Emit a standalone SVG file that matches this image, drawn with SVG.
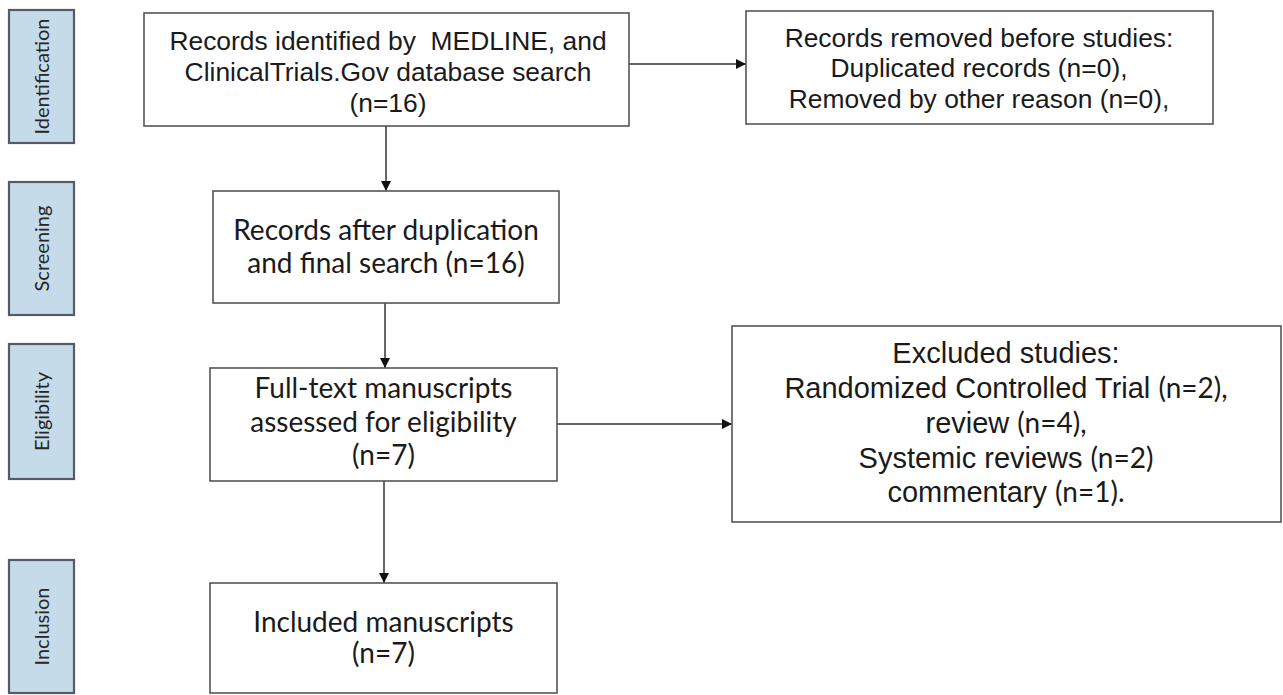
<svg xmlns="http://www.w3.org/2000/svg" width="1283" height="695" viewBox="0 0 1283 695">
<style>
.box{fill:#ffffff;stroke:#555555;stroke-width:1.6}
.stage{fill:#c6dbe9;stroke:#545a68;stroke-width:2.2}
.arial{font-family:"Liberation Sans",Arial,sans-serif;fill:#1a1a1a;text-anchor:middle}
.cal{font-family:Lato,"Open Sans",sans-serif;fill:#1a1a1a;text-anchor:middle}
.stagetxt{font-family:Lato,"Open Sans",sans-serif;fill:#262626;font-size:20px;text-anchor:middle}
.conn{stroke:#333333;stroke-width:1.5;fill:none}
</style>
<defs>
<marker id="arr" viewBox="0 0 10 10" refX="10" refY="5" markerWidth="10" markerHeight="10" markerUnits="userSpaceOnUse" orient="auto">
<path d="M0,0 L10,5 L0,10 z" fill="#111111"/>
</marker>
</defs>
<g id="stage-identification">
<rect class="stage" x="9" y="10" width="65" height="133"/>
<text class="stagetxt" transform="translate(48.5,76.5) rotate(-90)">Identification</text>
</g>
<g id="stage-screening">
<rect class="stage" x="9" y="182" width="65" height="133"/>
<text class="stagetxt" transform="translate(48.5,248.5) rotate(-90)">Screening</text>
</g>
<g id="stage-eligibility">
<rect class="stage" x="9" y="344" width="65" height="135"/>
<text class="stagetxt" transform="translate(48.5,411.5) rotate(-90)">Eligibility</text>
</g>
<g id="stage-inclusion">
<rect class="stage" x="9" y="560" width="65" height="133"/>
<text class="stagetxt" transform="translate(48.5,626.5) rotate(-90)">Inclusion</text>
</g>
<g id="connectors">
<line class="conn" x1="629" y1="64" x2="746" y2="64" marker-end="url(#arr)"/>
<line class="conn" x1="386" y1="126" x2="386" y2="191" marker-end="url(#arr)"/>
<line class="conn" x1="385" y1="303" x2="385" y2="368" marker-end="url(#arr)"/>
<line class="conn" x1="557" y1="424" x2="732" y2="424" marker-end="url(#arr)"/>
<line class="conn" x1="384" y1="481" x2="384" y2="583" marker-end="url(#arr)"/>
</g>
<g id="node-records-identified">
<rect class="box" x="144" y="13" width="485" height="113"/>
<text class="arial" font-size="26.4" x="388" y="50" xml:space="preserve">Records identified by  MEDLINE, and</text>
<text class="arial" font-size="26.4" x="388" y="81">ClinicalTrials.Gov database search</text>
<text class="arial" font-size="26.4" x="388" y="112">(n=16)</text>
</g>
<g id="node-records-removed">
<rect class="box" x="746" y="11" width="467" height="113"/>
<text class="arial" font-size="26.4" x="979" y="47">Records removed before studies:</text>
<text class="arial" font-size="26.4" x="979" y="77">Duplicated records (n=0),</text>
<text class="arial" font-size="26.4" x="979" y="108">Removed by other reason (n=0),</text>
</g>
<g id="node-records-after">
<rect class="box" x="213" y="191" width="346" height="112"/>
<text class="cal" font-size="28" x="386" y="240">Records after duplication</text>
<text class="cal" font-size="28" x="386" y="273">and final search (n=16)</text>
</g>
<g id="node-fulltext">
<rect class="box" x="210" y="368" width="347" height="113"/>
<text class="cal" font-size="28" x="383.5" y="398">Full-text manuscripts</text>
<text class="cal" font-size="28" x="383.5" y="432">assessed for eligibility</text>
<text class="cal" font-size="28" x="383.5" y="465">(n=7)</text>
</g>
<g id="node-excluded">
<rect class="box" x="732" y="326" width="549" height="196"/>
<text class="arial" font-size="29" x="1006" y="363">Excluded studies:</text>
<text class="arial" font-size="29" x="1006" y="398">Randomized Controlled Trial <tspan style="font-family:Lato,'Open Sans',sans-serif" font-size="28">(n=2),</tspan></text>
<text class="arial" font-size="29" x="1006" y="433">review <tspan style="font-family:Lato,'Open Sans',sans-serif" font-size="28">(n=4),</tspan></text>
<text class="arial" font-size="29" x="1006" y="468">Systemic reviews <tspan style="font-family:Lato,'Open Sans',sans-serif" font-size="28">(n=2)</tspan></text>
<text class="arial" font-size="29" x="1006" y="502">commentary <tspan style="font-family:Lato,'Open Sans',sans-serif" font-size="28">(n=1).</tspan></text>
</g>
<g id="node-included">
<rect class="box" x="210" y="583" width="347" height="110"/>
<text class="cal" font-size="28" x="383.5" y="632">Included manuscripts</text>
<text class="cal" font-size="28" x="383.5" y="663">(n=7)</text>
</g>
</svg>
